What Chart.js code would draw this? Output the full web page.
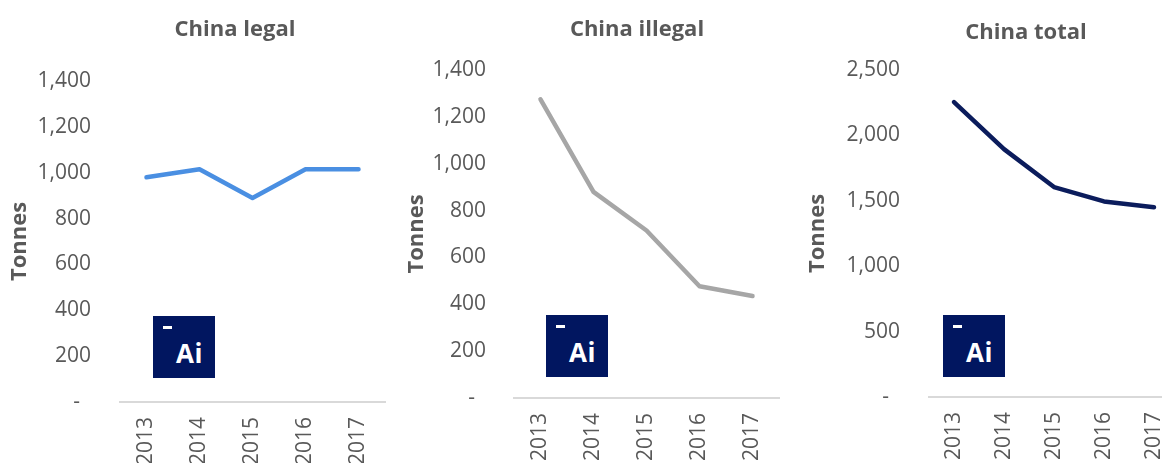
<!DOCTYPE html>
<html>
<head>
<meta charset="utf-8">
<script src="https://cdn.jsdelivr.net/npm/chart.js@4.4.1/dist/chart.umd.min.js"></script>
<style>
  html, body { margin: 0; padding: 0; background: #fff; overflow: hidden; width: 1162px; height: 463px; }
  body { position: relative; font-family: 'Open Sans', sans-serif; }
  canvas { position: absolute; top: 0; }
  .ttl { position: absolute; font-weight: bold; font-size: 22px; line-height: 22px; color: #595959; white-space: nowrap; transform: translateX(-50%); }
  .logo { position: absolute; width: 62px; height: 62px; background: #011660; color: #fff; font-weight: bold; }
  .logo .dash { position: absolute; left: 10px; top: 10px; width: 9px; height: 3px; background: #fff; font-size: 0; }
  .logo .ai { position: absolute; left: 23px; top: 22px; font-size: 26px; line-height: 30px; letter-spacing: 0.5px; }
</style>
</head>
<body>
<canvas id="legal" width="390" height="463" style="left:0px"></canvas>
<canvas id="illegal" width="390" height="463" style="left:390px"></canvas>
<canvas id="total" width="400" height="463" style="left:780px"></canvas>

<div class="ttl" style="left:235px; top:16px">China legal</div>
<div class="ttl" style="left:637px; top:16px">China illegal</div>
<div class="ttl" style="left:1026px; top:19px">China total</div>

<div class="logo" style="left:153px; top:316px"><span class="dash">-</span><span class="ai">Ai</span></div>
<div class="logo" style="left:546px; top:315px"><span class="dash">-</span><span class="ai">Ai</span></div>
<div class="logo" style="left:943px; top:315px"><span class="dash">-</span><span class="ai">Ai</span></div>

<script>
// values (tonnes)
const years = ['2013', '2014', '2015', '2016', '2017'];
const legal = [980, 1015, 890, 1015, 1015];
const illegal = [1275, 880, 715, 477, 435];
const total = [2255, 1895, 1605, 1495, 1450];

const grey = '#595959';

// g: layout numbers for each small chart (pixels)
function makeChart(id, data, color, yMax, step, g) {
    const ctx = document.getElementById(id)?.getContext('2d');
    if (!ctx) {
        console.error('Canvas no encontrado:', id);
        return;
    }

    new Chart(ctx, {
        type: 'line',
        data: {
            labels: years,
            datasets: [{
                data: data,
                borderColor: color,
                borderWidth: 4.5,
                borderCapStyle: 'round',
                borderJoinStyle: 'round',
                pointRadius: 0,
                tension: 0,
                fill: false
            }]
        },
        options: {
            responsive: false,
            animation: false,
            layout: { padding: { top: g.top, right: g.right, left: 0, bottom: 0 } },
            plugins: { legend: { display: false }, tooltip: { enabled: false }, title: { display: false } },
            scales: {
                x: {
                    offset: true, // points sit between the category edges, like Excel
                    grid: { display: false, drawTicks: false, offset: true },
                    border: { display: true, color: '#D9D9D9', width: 2 },
                    ticks: {
                        color: grey,
                        font: { family: 'Open Sans', size: 21 },
                        minRotation: 90,
                        maxRotation: 90,
                        autoSkip: false,
                        padding: 15
                    },
                    afterFit: s => {
                        s.height = g.xh;
                        // rotated labels fit inside the offset, no extra side room
                        s.paddingLeft = 0;
                        s.paddingRight = 0;
                    }
                },
                y: {
                    min: 0,
                    max: yMax,
                    grid: { display: false, drawTicks: false },
                    border: { display: false },
                    ticks: {
                        stepSize: step,
                        color: grey,
                        font: { family: 'Open Sans', size: 21 },
                        padding: g.tickPad,
                        callback: v => v === 0 ? '-  ' : v.toLocaleString('en-US')
                    },
                    title: {
                        display: true,
                        text: 'Tonnes',
                        color: grey,
                        font: { family: 'Open Sans', size: 22, weight: 'bold' },
                        padding: { top: g.titlePad, bottom: 0 }
                    },
                    afterFit: s => { s.width = g.yw; }
                }
            }
        }
    });
}

makeChart('legal', legal, '#4A8FE2', 1400, 200, { top: 81, right: 5, xh: 61, yw: 120, tickPad: 29, titlePad: 7 });
makeChart('illegal', illegal, '#A6A6A6', 1400, 200, { top: 70, right: 1, xh: 65, yw: 124, tickPad: 28, titlePad: 14 });
makeChart('total', total, '#0B1C5C', 2500, 500, { top: 70, right: 1, xh: 66, yw: 149, tickPad: 29, titlePad: 25 });
</script>
</body>
</html>
